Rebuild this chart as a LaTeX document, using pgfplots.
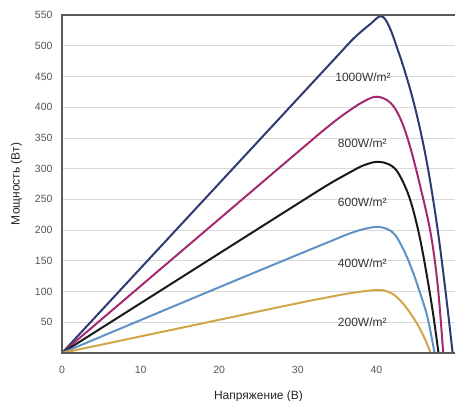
\documentclass[border=0pt]{standalone}
\usepackage{pgfplots}
\pgfplotsset{compat=1.18}
\usepackage{fontspec}
\setmainfont{Liberation Sans}
\definecolor{cnavy}{HTML}{2F3A72}
\definecolor{cmag}{HTML}{A32A6E}
\definecolor{cblack}{HTML}{1A1A1A}
\definecolor{cblue}{HTML}{5E93C4}
\definecolor{cyel}{HTML}{D2A549}
\definecolor{axgray}{HTML}{5A5A5A}
\definecolor{txtgray}{HTML}{555555}
\begin{document}
\begin{tikzpicture}
\useasboundingbox (-62pt,-48pt) rectangle (393pt,353pt);
\begin{axis}[
  scale only axis,
  width=393pt, height=338pt,
  xmin=0, xmax=50, ymin=0, ymax=550,
  xtick={0,10,20,30,40},
  ytick={50,100,150,200,250,300,350,400,450,500,550},
  ymajorgrids,
  grid style={draw=black!15, line width=0.8pt},
  major tick length=0pt,
  axis line style={draw=none},
  /pgf/number format/assume math mode=true,
  tick label style={font=\fontsize{10.5}{12}\selectfont, text=txtgray},
  xticklabel style={yshift=-10pt},
  yticklabel style={xshift=-6pt},
  xlabel={Напряжение (В)},
  ylabel={Мощность (Вт)},
  label style={font=\fontsize{12}{14}\selectfont, text=black!85},
  xlabel style={yshift=-10pt},
  ylabel style={yshift=6pt},
  every axis plot/.append style={line width=2pt, smooth, tension=0.6},
  clip=false,
]
\addplot[cnavy] coordinates {(0,0)(10,138)(20,276)(30,414)(35,483)(37.2,513)(39.2,535)(40.6,548)(41.6,532)(42.7,494)(43.7,455)(44.7,410)(45.7,356)(46.7,290)(47.8,200)(48.8,100)(49.7,0)};
\addplot[cmag] coordinates {(0,0)(10,109)(20,218)(30,327)(34,370)(36.5,394)(38.5,410)(40.1,417)(41.8,407)(43.1,380)(44.3,335)(45.6,270)(46.9,195)(47.8,110)(48.5,0)};
\addplot[cblack] coordinates {(0,0)(10,81)(20,162)(30,243)(34,275)(36.5,293)(38.5,306)(40.4,311)(42.2,302)(43.4,278)(44.4,245)(45.4,195)(46.3,135)(47.2,65)(47.9,0)};
\addplot[cblue] coordinates {(0,0)(10,53.5)(20,107)(30,160)(34,181)(36.5,194)(38.5,202)(40.4,205)(42.1,196)(43.3,172)(44.4,140)(45.5,100)(46.5,58)(47.4,0)};
\addplot[cyel] coordinates {(0,0)(10,27)(20,54)(30,81)(34,91)(37,98)(40.2,102.5)(41.8,98)(43,86)(44.2,67)(45.3,45)(46.2,22)(46.9,0)};
\node[font=\fontsize{12}{14}\selectfont, text=black!80] at (axis cs:38.3,449) {1000W/m²};
\node[font=\fontsize{12}{14}\selectfont, text=black!80] at (axis cs:38.2,342) {800W/m²};
\node[font=\fontsize{12}{14}\selectfont, text=black!80] at (axis cs:38.2,246) {600W/m²};
\node[font=\fontsize{12}{14}\selectfont, text=black!80] at (axis cs:38.2,146) {400W/m²};
\node[font=\fontsize{12}{14}\selectfont, text=black!80] at (axis cs:38.2,50) {200W/m²};
\draw[axgray, line width=1.5pt] (rel axis cs:1,1) -- (rel axis cs:0,1) -- (rel axis cs:0,0) -- (rel axis cs:1,0);
\end{axis}
\end{tikzpicture}
\end{document}
